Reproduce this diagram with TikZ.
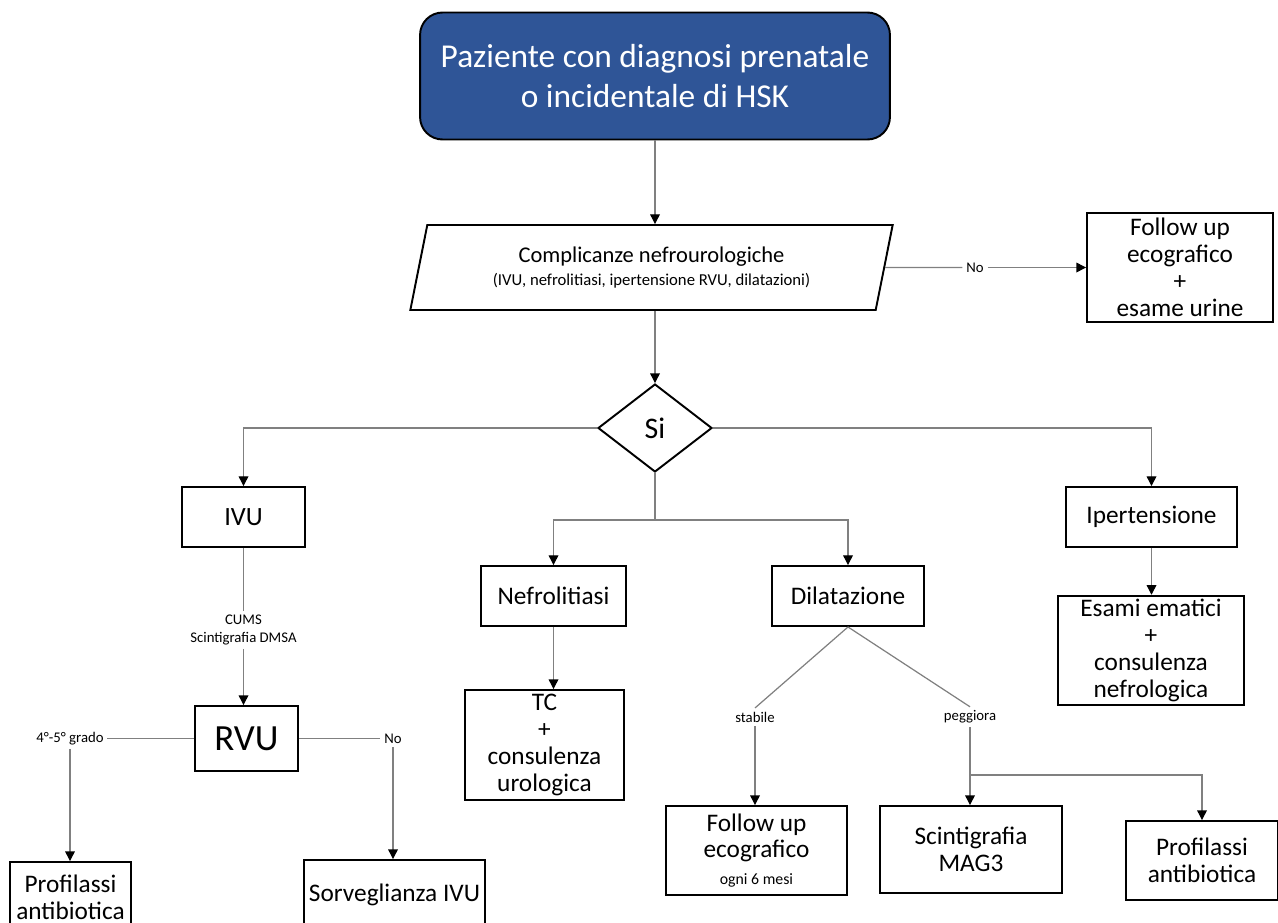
\documentclass[tikz,border=0pt]{standalone}
\usepackage{fontspec}
\setmainfont{Carlito}
\usepackage{xcolor}
\usetikzlibrary{
    arrows.meta,
    positioning,
    calc,
    shapes.geometric
}
\definecolor{hskBlue}{RGB}{47,85,151}
\definecolor{lineGray}{RGB}{128,128,128}
\tikzset{
  box/.style    = {draw, line width=1.1pt, align=center, inner sep=2pt,
                   font=\fontsize{14.4}{15.3}\selectfont},
  title/.style  = {draw, line width=1.1pt, rounded corners=0.45cm, fill=hskBlue,
                   text=white, align=center, minimum width=9.4cm,
                   minimum height=2.54cm, font=\fontsize{19}{22.7}\selectfont},
  para/.style   = {draw, line width=1.1pt, trapezium, trapezium left angle=77,
                   trapezium right angle=103, trapezium stretches=true,
                   minimum width=9.66cm, minimum height=1.7cm, align=center,
                   font=\fontsize{12.8}{13.6}\selectfont},
  choice/.style = {draw, line width=1.1pt, diamond, minimum width=2.28cm,
                   minimum height=1.76cm, inner sep=0pt,
                   font=\fontsize{17}{20}\selectfont},
  lbl/.style    = {inner sep=2pt, align=center, font=\fontsize{8.4}{10.2}\selectfont},
  line/.style   = {lineGray, line width=0.7pt},
  arr/.style    = {line, -{Triangle[length=5.5pt, width=5.5pt, color=black]}}
}

\begin{document}
\begin{tikzpicture}[x=0.02cm, y=-0.02cm]
    \useasboundingbox (0,0) rectangle (1278,923);

    % Start and first decision
    \node[title] (start) at (655,76) {Paziente con diagnosi prenatale\\o incidentale di HSK};
    \node[para] (compl) at (651.5,267.5) {Complicanze nefrourologiche\\{\fontsize{9.5}{11}\selectfont(IVU, nefrolitiasi, ipertensione RVU, dilatazioni)}};
    \node[lbl] (no1) at (975,267.5) {No};
    \node[box, minimum width=3.72cm, minimum height=2.18cm] (fu1) at (1180,267.5) {Follow up\\ecografico\\+\\esame urine};
    \node[choice] (si) at (655,428) {Si};

    % Branches
    \node[box, minimum width=2.46cm, minimum height=1.2cm, font=\fontsize{15}{17}\selectfont] (ivu) at (243.5,517) {IVU};
    \node[box, minimum width=2.9cm, minimum height=1.2cm] (nefro) at (553.5,596) {Nefrolitiasi};
    \node[box, minimum width=3.04cm, minimum height=1.2cm] (dila) at (848,596) {Dilatazione};
    \node[box, minimum width=3.42cm, minimum height=1.2cm] (iper) at (1151.5,517) {Ipertensione};

    % IVU column
    \node[lbl] (cums) at (243.5,630) {CUMS\\Scintigrafia DMSA};
    \node[box, minimum width=2.06cm, minimum height=1.3cm, font=\fontsize{21}{24}\selectfont] (rvu) at (246.5,738.5) {RVU};
    \node[lbl] (grado) at (70,738.5) {4°-5° grado};
    \node[lbl] (no2) at (393,738.5) {No};
    \node[box, minimum width=2.42cm, minimum height=1.4cm] (prof1) at (70.5,897) {Profilassi\\antibiotica};
    \node[box, minimum width=3.62cm, minimum height=1.4cm] (sorv) at (394.5,895) {Sorveglianza IVU};

    % Nefrolitiasi column
    \node[box, minimum width=3.18cm, minimum height=2.2cm] (tc) at (544.5,745) {TC\\+\\consulenza\\urologica};

    % Dilatazione column
    \node[lbl] (stab) at (755,717) {stabile};
    \node[lbl] (pegg) at (970,717) {peggiora};
    \node[box, minimum width=3.62cm, minimum height=1.78cm] (fu2) at (756.5,850.5) {Follow up\\ecografico\\{\fontsize{9}{10}\selectfont ogni 6 mesi}};
    \node[box, minimum width=3.64cm, minimum height=1.74cm] (scint) at (971,849.5) {Scintigrafia\\MAG3};
    \node[box, minimum width=3.04cm, minimum height=1.58cm] (prof2) at (1202,860.5) {Profilassi\\antibiotica};

    % Ipertensione column
    \node[box, minimum width=3.72cm, minimum height=2.18cm] (esami) at (1151,650.5) {Esami ematici\\+\\consulenza\\nefrologica};

    % Connectors
    \draw[arr] (start.south) -- (start.south |- compl.north);
    \draw[line] (compl.east) -- (no1.west);
    \draw[arr] (no1.east) -- (fu1.west);
    \draw[arr] (si.north |- compl.south) -- (si.north);
    \draw[arr] (si.west) -| (ivu.north);
    \draw[arr] (si.east) -| (iper.north);
    \draw[line] (si.south) -- ++(0,47) coordinate (split);
    \draw[arr] (split) -| (nefro.north);
    \draw[arr] (split) -| (dila.north);

    \draw[line] (ivu.south) -- (cums.north);
    \draw[arr] (cums.south) -- (cums.south |- rvu.north);
    \draw[line] (rvu.west) -- (grado.east);
    \draw[line] (rvu.east) -- (no2.west);
    \draw[arr] (grado.south) -- (grado.south |- prof1.north);
    \draw[arr] (no2.south) -- (no2.south |- sorv.north);

    \draw[arr] (nefro.south) -- (nefro.south |- tc.north);

    \draw[line] (dila.south) -- (stab.north);
    \draw[line] (dila.south) -- (pegg.north);
    \draw[arr] (stab.south) -- (stab.south |- fu2.north);
    \draw[arr] (pegg.south) -- (pegg.south |- scint.north);
    \coordinate (fork) at (970,775);
    \draw[arr] (fork) -| (prof2.north);

    \draw[arr] (iper.south) -- (iper.south |- esami.north);
  \end{tikzpicture}
\end{document}
